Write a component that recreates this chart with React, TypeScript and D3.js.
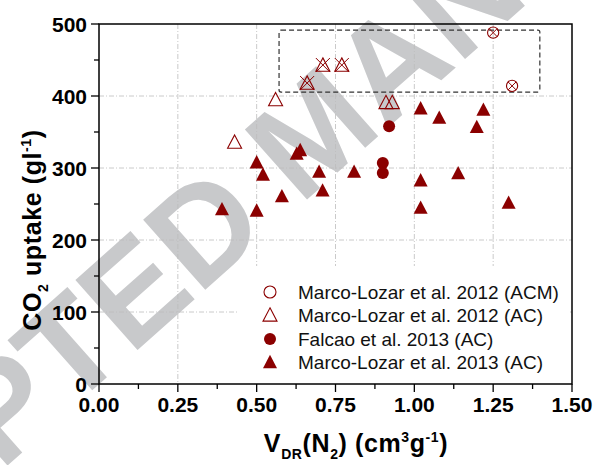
import React from "react";
import * as d3 from "d3";

// ---- data ----
const acm2012X = [1.25, 1.31];
const acm2012Y = [488, 414];

const ac2012X = [0.43, 0.56, 0.66, 0.71, 0.77, 0.91, 0.93];
const ac2012Y = [336, 395, 418, 443, 443, 391, 391];

const falcaoX = [0.92, 0.9, 0.9];
const falcaoY = [358, 307, 293];

const ml2013X = [0.39, 0.5, 0.52, 0.5, 0.58, 0.627, 0.638, 0.698, 0.709, 0.809, 1.02, 1.079, 1.219, 1.198, 1.02, 1.139, 1.02, 1.299];
const ml2013Y = [243, 308, 291, 241, 261, 320, 325, 295, 269, 295, 383, 370, 381, 357, 283, 293, 245, 252];

const xTicks = [0, 0.25, 0.5, 0.75, 1.0, 1.25, 1.5];
const xTickLabels = ["0.00", "0.25", "0.50", "0.75", "1.00", "1.25", "1.50"];
const yTicks = [0, 100, 200, 300, 400, 500];
const yTickLabels = ["0", "100", "200", "300", "400", "500"];

// highlighted region (dashed rectangle)
const boxX = [0.571, 1.398];
const boxY = [405.5, 491.5];

const legendLabels = [
  "Marco-Lozar et al. 2012 (ACM)",
  "Marco-Lozar et al. 2012 (AC)",
  "Falcao et al. 2013 (AC)",
  "Marco-Lozar et al. 2013 (AC)",
];

const RED = "#8b0000";
const FONT = "'Liberation Sans', Arial, Helvetica, sans-serif";

const L = 99, R = 572, T = 24, B = 384;

function tri(cx: number, cy: number, s: number) {
  const h = s * 0.88;
  return `M${cx},${cy - h / 2 - 1}L${cx + s / 2},${cy + h / 2}L${cx - s / 2},${cy + h / 2}Z`;
}

export default function App() {
  const x = d3.scaleLinear().domain([0, 1.5]).range([L, R]);
  const y = d3.scaleLinear().domain([0, 500]).range([B, T]);

  const xMinor = d3.range(0, 1.5001, 0.125);
  const yMinor = d3.range(0, 500.1, 50);

  const inBox = (vx: number, vy: number) =>
    vx >= boxX[0] && vx <= boxX[1] && vy >= boxY[0] && vy <= boxY[1];

  const legendRows = [T + 268, T + 291, T + 315, T + 338];

  return (
    <svg width={595} height={465} style={{ position: "absolute", left: 0, top: 0, background: "#fff" }}>
      <rect x={0} y={0} width={595} height={465} fill="#fff" />
      {/* watermark */}
      <text
        transform="translate(313,129) rotate(-41.6)"
        textAnchor="middle"
        dy="0.358em"
        fontFamily={FONT}
        fontWeight="bold"
        fontSize={136}
        fill="#c8c9cb"
      >
        ACCEPTED MANUSCRIPT
      </text>

      {/* gridlines */}
      <g stroke="#bdbdbd" strokeWidth={0.8} strokeDasharray="5,2,1,2">
        {xTicks.slice(1, -1).map((t) => (
          <line key={"gx" + t} x1={x(t)} x2={x(t)} y1={T} y2={B} />
        ))}
        {yTicks.slice(1, -1).map((t) => (
          <line key={"gy" + t} x1={L} x2={R} y1={y(t)} y2={y(t)} />
        ))}
      </g>

      {/* legend background */}
      <rect x={237} y={266} width={333} height={116} fill="#fff" />

      {/* dashed box */}
      <rect
        x={x(boxX[0])}
        y={y(boxY[1])}
        width={x(boxX[1]) - x(boxX[0])}
        height={y(boxY[0]) - y(boxY[1])}
        rx={2}
        fill="none"
        stroke="#333"
        strokeWidth={1.2}
        strokeDasharray="5,3"
      />

      {/* Marco-Lozar 2013 filled triangles */}
      {ml2013X.map((vx, i) => (
        <path key={"m13" + i} d={tri(x(vx), y(ml2013Y[i]), 14)} fill={RED} />
      ))}
      {/* Falcao filled circles */}
      {falcaoX.map((vx, i) => (
        <circle key={"f" + i} cx={x(vx)} cy={y(falcaoY[i])} r={6} fill={RED} />
      ))}
      {/* Marco-Lozar 2012 AC open triangles */}
      {ac2012X.map((vx, i) => {
        const cx = x(vx), cy = y(ac2012Y[i]);
        return (
          <g key={"a12" + i}>
            <path d={tri(cx, cy, 14)} fill="none" stroke={RED} strokeWidth={1.1} />
            {inBox(vx, ac2012Y[i]) && (
              <path d={`M${cx - 7},${cy - 7}L${cx + 7},${cy + 7}M${cx + 7},${cy - 7}L${cx - 7},${cy + 7}`} stroke={RED} strokeWidth={1} />
            )}
          </g>
        );
      })}
      {/* Marco-Lozar 2012 ACM open circles */}
      {acm2012X.map((vx, i) => {
        const cx = x(vx), cy = y(acm2012Y[i]);
        return (
          <g key={"acm" + i}>
            <circle cx={cx} cy={cy} r={5.6} fill="none" stroke={RED} strokeWidth={1.1} />
            {inBox(vx, acm2012Y[i]) && (
              <path d={`M${cx - 4},${cy - 4}L${cx + 4},${cy + 4}M${cx + 4},${cy - 4}L${cx - 4},${cy + 4}`} stroke={RED} strokeWidth={1} />
            )}
          </g>
        );
      })}

      {/* legend */}
      <g fontFamily={FONT} fontSize={19} fill="#111">
        <circle cx={270} cy={legendRows[0]} r={6} fill="none" stroke={RED} strokeWidth={1.1} />
        <path d={tri(270, legendRows[1], 14)} fill="none" stroke={RED} strokeWidth={1.1} />
        <circle cx={270} cy={legendRows[2]} r={6} fill={RED} />
        <path d={tri(270, legendRows[3], 14)} fill={RED} />
        {legendLabels.map((lab, i) => (
          <text key={lab} x={298} y={legendRows[i]} dy="0.36em">
            {lab}
          </text>
        ))}
      </g>

      {/* frame */}
      <rect x={L} y={T} width={R - L} height={B - T} fill="none" stroke="#000" strokeWidth={1.5} />

      {/* ticks */}
      <g stroke="#000" strokeWidth={1.3}>
        {xMinor.map((t) => {
          const major = Math.abs(t * 4 - Math.round(t * 4)) < 1e-6;
          return <line key={"xt" + t} x1={x(t)} x2={x(t)} y1={B} y2={B + (major ? 8 : 5)} />;
        })}
        {yMinor.map((t) => {
          const major = t % 100 === 0;
          return <line key={"yt" + t} x1={L} x2={L - (major ? 8 : 5)} y1={y(t)} y2={y(t)} />;
        })}
      </g>

      {/* tick labels */}
      <g fontFamily={FONT} fontWeight="bold" fontSize={21} fill="#000">
        {xTicks.map((t, i) => (
          <text key={"xl" + t} x={x(t)} y={412} textAnchor="middle">
            {xTickLabels[i]}
          </text>
        ))}
        {yTicks.map((t, i) => (
          <text key={"yl" + t} x={87} y={y(t)} dy="0.36em" textAnchor="end">
            {yTickLabels[i]}
          </text>
        ))}
      </g>

      {/* axis titles */}
      <text x={356} y={452} textAnchor="middle" fontFamily={FONT} fontWeight="bold" fontSize={25} letterSpacing={0.6} fill="#000">
        V<tspan fontSize={14} dy={7}>DR</tspan>
        <tspan dy={-7}>(N</tspan>
        <tspan fontSize={14} dy={7}>2</tspan>
        <tspan dy={-7}>) (cm</tspan>
        <tspan fontSize={14} dy={-10}>3</tspan>
        <tspan dy={10}>g</tspan>
        <tspan fontSize={14} dy={-10}>-1</tspan>
        <tspan dy={10}>)</tspan>
      </text>
      <text
        transform="translate(41,230) rotate(-90)"
        textAnchor="middle"
        fontFamily={FONT}
        fontWeight="bold"
        fontSize={25}
        letterSpacing={0.6}
        fill="#000"
      >
        CO<tspan fontSize={14} dy={7}>2</tspan>
        <tspan dy={-7}> uptake (gl</tspan>
        <tspan fontSize={14} dy={-10}>-1</tspan>
        <tspan dy={10}>)</tspan>
      </text>
    </svg>
  );
}
